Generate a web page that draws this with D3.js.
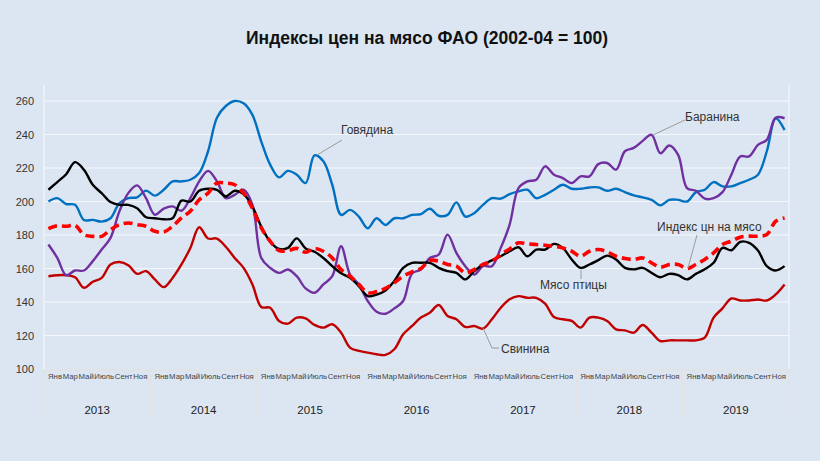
<!DOCTYPE html>
<html>
<head>
<meta charset="utf-8">
<script src="https://cdn.jsdelivr.net/npm/d3@7"></script>
<style>
  html, body { margin: 0; padding: 0; background: #dce6f2; }
  svg { display: block; font-family: "Liberation Sans", Arial, sans-serif; }
</style>
</head>
<body>
<svg id="chart" width="820" height="461"></svg>
<script>
const years = ['2013', '2014', '2015', '2016', '2017', '2018', '2019'];
const monthLabels = ['Янв', 'Мар', 'Май', 'Июль', 'Сент', 'Ноя'];
const yTicks = [100, 120, 140, 160, 180, 200, 220, 240, 260];

// monthly values, Jan 2013 .. Dec 2019
const beef = [
    200, 202, 198.5, 198, 189, 189, 188, 190, 199, 202, 202.5, 206.5,
    203.5, 207, 212, 212, 213, 217, 230, 250, 257, 260, 258.6, 251.7,
    235.8, 222, 214.4, 218.3, 216, 211, 227.5, 224, 210, 192, 195, 191,
    184, 190, 186, 190, 190, 192, 192.5, 195.7, 191.5, 192, 199.5, 191,
    193, 198, 202, 201.7, 204.4, 206, 207, 202, 204, 207, 210, 207.6,
    207.6, 208.4, 208.4, 206.4, 207.6, 205.6, 203.7, 202.5, 201, 197.7, 201, 201,
    200, 205.6, 207, 211.6, 209, 209, 211, 213, 216, 230, 249.7, 242.7,
];
const poultry = [
    207, 211.6, 216.3, 223.5, 219, 210, 205, 199.7, 198, 198, 196, 190.6,
    190, 189.4, 190, 200.5, 200, 206.4, 207.6, 207, 203, 206.4, 204.4, 197,
    185, 176, 171.7, 172.3, 178, 172, 170, 166.3, 161.4, 157.2, 154.4, 149.5,
    143.5, 144.4, 146.9, 152.5, 160.4, 163.4, 163.4, 163.4, 160.4, 158.4, 157.4, 153.5,
    158.4, 162.4, 164.8, 167.3, 170.3, 172.7, 167.3, 171.3, 171.3, 174.7, 172.3, 165.4,
    160.4, 162.4, 165, 167.7, 165.4, 160.4, 159.5, 160.4, 157.4, 154.8, 156.8, 156,
    153.5, 156.8, 159.5, 163.4, 172.3, 170.9, 175.9, 175.3, 170.7, 161.4, 158.8, 161.4,
];
const meatIndex = [
    183.8, 185.6, 185.2, 185.8, 180.2, 179.2, 179.2, 183.2, 186.2, 187.2, 186.2, 185.2,
    182.2, 181.8, 185.2, 190.2, 194.2, 201, 205, 211, 211, 210, 205, 196,
    184.2, 176.3, 170.7, 170.7, 172, 169.7, 172, 170.3, 166.3, 159.4, 155.4, 150.5,
    145.5, 146.2, 148.1, 151.5, 155.4, 158, 160, 164.8, 164.4, 162.4, 161.4, 157.4,
    159.4, 162.4, 164.4, 168.3, 171.7, 175.3, 174.7, 174.3, 173.9, 173.3, 172.3, 170.3,
    167.3, 170.3, 171.3, 170, 167.3, 166, 165.4, 166.3, 163.4, 160.8, 162.4, 162.4,
    160, 162.4, 165.4, 169.3, 174.3, 176.3, 178.7, 179.3, 179.3, 180.3, 188.2, 190.2,
];
const mutton = [
    174.3, 166.3, 156, 158.8, 158.8, 164.4, 171.3, 178.3, 194.1, 205, 209.6, 202,
    192.1, 195.7, 197.1, 194.5, 202, 212, 218.3, 212, 202, 204, 207, 198,
    166.3, 160.4, 157.4, 159.4, 155.4, 148.1, 145.5, 150.5, 155.4, 173.3, 156.4, 150.5,
    140.6, 134.2, 133, 136.2, 140.6, 157, 159.4, 166.3, 168.3, 180.2, 169.3, 161.4,
    156.4, 161.4, 161.4, 172.3, 186.2, 208, 212, 213, 221, 216, 214, 211,
    215, 215, 222.3, 223, 219, 230, 232, 236.2, 239.8, 228.8, 233.4, 227.8,
    208, 206.4, 201.7, 202, 205.6, 216, 226.9, 226.9, 233.8, 236.8, 250, 249.7,
];
const pork = [
    155.4, 156, 156, 154.8, 148.5, 152.1, 154.4, 162.4, 163.9, 162, 156.8, 158.4,
    153.5, 148.9, 154.4, 162.4, 172.3, 184.6, 177.9, 177.9, 173, 166.3, 160.4, 150.5,
    137, 136.6, 128.7, 127.1, 130.7, 130.2, 126.3, 124.7, 126.7, 121.7, 112.8, 110.8,
    109.8, 108.8, 108.4, 111.8, 120.7, 125.7, 130.7, 133.6, 138.2, 131.7, 129.7, 125.1,
    125.7, 124.1, 129.7, 136.6, 141.6, 143.5, 142.5, 142.5, 139, 131, 129.7, 128.7,
    124.7, 130.7, 130.7, 128.7, 123.7, 123.1, 121.7, 126.3, 121.7, 116.7, 117.1, 117.1,
    117.1, 117.1, 118.7, 130.7, 136.2, 142.1, 140.9, 140.9, 141.5, 140.9, 144.5, 150.5,
];

const svg = d3.select('#chart');
const plotLeft = 44, plotRight = 789, plotTop = 85, plotBottom = 369, catBottom = 415;

const months = d3.range(years.length * 12);
const x = d3.scaleBand().domain(months).range([plotLeft, plotRight]).padding(0);
const xYear = d3.scaleBand().domain(years).range([plotLeft, plotRight]).padding(0);
const y = d3.scaleLinear().domain([100, 260]).range([plotBottom, plotBottom - 160 * 1.675]);
const cx = (i) => x(i) + x.bandwidth() / 2;

// title
svg.append('text')
    .attr('x', 427)
    .attr('y', 44)
    .attr('text-anchor', 'middle')
    .attr('font-size', '17.5px')
    .attr('font-weight', 'bold')
    .attr('fill', '#111')
    .text('Индексы цен на мясо ФАО (2002-04 = 100)');

// horizontal grid
svg.append('g')
    .selectAll('line')
    .data(yTicks.slice(1))
    .enter()
    .append('line')
    .attr('x1', plotLeft)
    .attr('x2', plotRight)
    .attr('y1', (d) => y(d))
    .attr('y2', (d) => y(d))
    .attr('stroke', '#f4f7fb')
    .attr('stroke-width', 1.2);

// y axis labels
svg.append('g')
    .attr('transform', `translate(${plotLeft}, 0)`)
    .call(d3.axisLeft(y).tickValues(yTicks).tickSize(0).tickPadding(10))
    .call((g) => g.select('.domain').remove())
    .call((g) => g.selectAll('.tick text')
        .attr('fill', '#333')
        .attr('font-size', '11px')
        .attr('font-family', '"Liberation Sans", Arial, sans-serif'));

// plot borders
svg.append('line')
    .attr('x1', plotLeft).attr('x2', plotLeft)
    .attr('y1', plotTop).attr('y2', plotBottom)
    .attr('stroke', '#f4f7fb').attr('stroke-width', 1.2);
svg.append('line')
    .attr('x1', plotRight).attr('x2', plotRight)
    .attr('y1', plotTop).attr('y2', plotBottom)
    .attr('stroke', '#f4f7fb').attr('stroke-width', 1.2);

// category axis: months and years
const cat = svg.append('g');
cat.append('line')
    .attr('x1', plotLeft).attr('x2', plotRight)
    .attr('y1', plotBottom + 1).attr('y2', plotBottom + 1)
    .attr('stroke', '#e6e2da').attr('stroke-width', 1);
cat.selectAll('.sep')
    .data(years.concat(['end']))
    .enter()
    .append('line')
    .attr('class', 'sep')
    .attr('x1', (d) => (d === 'end' ? plotRight : xYear(d)))
    .attr('x2', (d) => (d === 'end' ? plotRight : xYear(d)))
    .attr('y1', plotBottom + 1)
    .attr('y2', catBottom)
    .attr('stroke', '#e6e2da')
    .attr('stroke-width', 1);

// month labels sit side by side across each year, like the original
const gap = 0.6;
const probe = cat.append('g').attr('font-size', '9px');
const natural = monthLabels.map((m) => {
    const t = probe.append('text').text(m);
    const w = t.node().getComputedTextLength();
    t.remove();
    return w;
});
probe.remove();
const avail = xYear.bandwidth() - 7 - gap * (monthLabels.length - 1);
const k = Math.min(1, avail / d3.sum(natural));
const offsets = natural.map((w, j) => d3.sum(natural.slice(0, j)) * k + gap * j);

const monthTicks = [];
years.forEach((yr) => {
    monthLabels.forEach((m, j) => monthTicks.push({ year: yr, j: j, label: m }));
});
cat.selectAll('.month')
    .data(monthTicks)
    .enter()
    .append('text')
    .attr('class', 'month')
    .attr('x', (d) => xYear(d.year) + 4 + offsets[d.j])
    .attr('y', 379)
    .attr('font-size', `${9 * k}px`)
    .attr('fill', '#444')
    .text((d) => d.label);

cat.selectAll('.year')
    .data(years)
    .enter()
    .append('text')
    .attr('class', 'year')
    .attr('x', (d) => xYear(d) + xYear.bandwidth() / 2)
    .attr('y', 414)
    .attr('text-anchor', 'middle')
    .attr('font-size', '11.5px')
    .attr('fill', '#222')
    .text((d) => d);

// series
const line = d3.line()
    .x((d, i) => cx(i))
    .y((d) => y(d))
    .curve(d3.curveCatmullRom.alpha(0.5));

const series = [
    { name: 'pork', values: pork, color: '#c00000', width: 2.4, dash: null },
    { name: 'beef', values: beef, color: '#0070c0', width: 2.4, dash: null },
    { name: 'mutton', values: mutton, color: '#7030a0', width: 2.4, dash: null },
    { name: 'poultry', values: poultry, color: '#000000', width: 2.4, dash: null },
    { name: 'index', values: meatIndex, color: '#ff0000', width: 3.6, dash: '9,5' },
];

svg.append('g')
    .selectAll('path')
    .data(series)
    .enter()
    .append('path')
    .attr('d', (d) => line(d.values))
    .attr('fill', 'none')
    .attr('stroke', (d) => d.color)
    .attr('stroke-width', (d) => d.width)
    .attr('stroke-dasharray', (d) => d.dash)
    .attr('stroke-linejoin', 'round');

// annotations with leader lines
const notes = [
    { text: 'Говядина', tx: 341, ty: 134, pts: [[342, 140], [317, 155]] },
    { text: 'Баранина', tx: 685, ty: 121, pts: [[685, 120], [653, 135]] },
    { text: 'Индекс цн на мясо', tx: 657, ty: 231, pts: [[697, 235], [688, 268]] },
    { text: 'Мясо птицы', tx: 540, ty: 289, pts: [[581, 270], [581, 279]] },
    { text: 'Свинина', tx: 501, ty: 353, pts: [[483, 328], [492, 348], [499, 348]] },
];
const ann = svg.append('g');
notes.forEach((n) => {
    ann.append('path')
        .attr('d', d3.line()(n.pts))
        .attr('fill', 'none')
        .attr('stroke', '#9a9a9a')
        .attr('stroke-width', 1);
    ann.append('text')
        .attr('x', n.tx)
        .attr('y', n.ty)
        .attr('font-size', '12px')
        .attr('fill', '#333')
        .text(n.text);
});
</script>
</body>
</html>
